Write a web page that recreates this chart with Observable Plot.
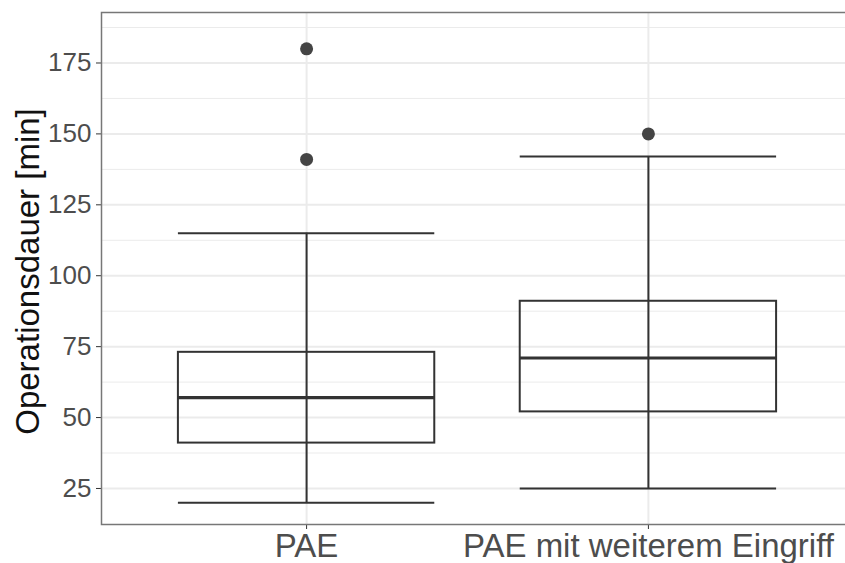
<!DOCTYPE html>
<html>
<head>
<meta charset="utf-8">
<script src="https://cdn.jsdelivr.net/npm/d3@7"></script>
<script src="https://cdn.jsdelivr.net/npm/@observablehq/plot@0.6"></script>
<style>
  html, body { margin: 0; padding: 0; background: #fff; overflow: hidden; }
  #chart svg { overflow: hidden; display: block; }
</style>
</head>
<body>
<div id="chart"></div>
<script>
// Operationsdauer je Gruppe: Boxplot-Kennwerte (Minuten)
const categories = ["PAE", "PAE mit weiterem Eingriff"];
const whiskerLow = [20, 25];
const q1 = [41, 52];
const median = [57, 71];
const q3 = [73, 91];
const whiskerHigh = [115, 142];

// Ausreißer
const outlierGroup = ["PAE", "PAE", "PAE mit weiterem Eingriff"];
const outlierValue = [180, 141, 150];

// Achsenteilung
const yTicks = [25, 50, 75, 100, 125, 150, 175];
const yMinorTicks = [37.5, 62.5, 87.5, 112.5, 137.5, 162.5, 187.5];

const boxWidth = 0.75;
const boxes = categories.map((c, i) => ({
  group: c,
  pos: i + 1,
  lo: whiskerLow[i],
  q1: q1[i],
  med: median[i],
  q3: q3[i],
  hi: whiskerHigh[i]
}));
const outliers = outlierGroup.map((g, i) => ({
  pos: categories.indexOf(g) + 1,
  value: outlierValue[i]
}));

const font = "'Liberation Sans', Arial, Helvetica, sans-serif";
const ink = "#333333";
const grid = "#ebebeb";

const chart = Plot.plot({
  width: 845,
  height: 563,
  marginLeft: 101,
  marginRight: -8,
  marginTop: 12,
  marginBottom: 39,
  style: { fontFamily: font, background: "#fff" },
  x: { type: "linear", domain: [0.4, 2.6] },
  y: { domain: [12.3, 192.8] },
  marks: [
    // Gitternetz
    Plot.ruleY(yMinorTicks, { stroke: grid, strokeWidth: 1 }),
    Plot.ruleY(yTicks, { stroke: grid, strokeWidth: 2 }),
    Plot.ruleX(boxes, { x: "pos", stroke: grid, strokeWidth: 2 }),

    // Achsen
    Plot.axisY(yTicks, {
      tickSize: 5, tickPadding: 5, fontSize: 26, color: "#4d4d4d",
      stroke: "#333", label: null
    }),
    Plot.axisX(boxes.map(d => d.pos), {
      tickSize: 5, tickPadding: 4, fontSize: 33, color: "#4d4d4d",
      stroke: "#333", label: null,
      tickFormat: p => categories[p - 1]
    }),

    // Whisker
    Plot.ruleX(boxes, { x: "pos", y1: "lo", y2: "hi", stroke: ink, strokeWidth: 2 }),
    Plot.ruleY(boxes, { y: "lo", x1: d => d.pos - boxWidth / 2, x2: d => d.pos + boxWidth / 2, stroke: ink, strokeWidth: 2 }),
    Plot.ruleY(boxes, { y: "hi", x1: d => d.pos - boxWidth / 2, x2: d => d.pos + boxWidth / 2, stroke: ink, strokeWidth: 2 }),

    // Box und Median
    Plot.rect(boxes, {
      x1: d => d.pos - boxWidth / 2, x2: d => d.pos + boxWidth / 2,
      y1: "q1", y2: "q3", fill: "none", stroke: ink, strokeWidth: 2
    }),
    Plot.ruleY(boxes, { y: "med", x1: d => d.pos - boxWidth / 2, x2: d => d.pos + boxWidth / 2, stroke: ink, strokeWidth: 3.2 }),

    // Ausreißer
    Plot.dot(outliers, { x: "pos", y: "value", r: 6.5, fill: "#444", stroke: "none" }),

    // Achsentitel
    Plot.text(["Operationsdauer [min]"], {
      frameAnchor: "left", dx: -73, dy: 3, rotate: -90,
      fontSize: 33, fill: "#111", textAnchor: "middle"
    }),

    Plot.frame({ stroke: "#777", strokeWidth: 1.5 })
  ]
});

document.getElementById("chart").appendChild(chart);
</script>
</body>
</html>
